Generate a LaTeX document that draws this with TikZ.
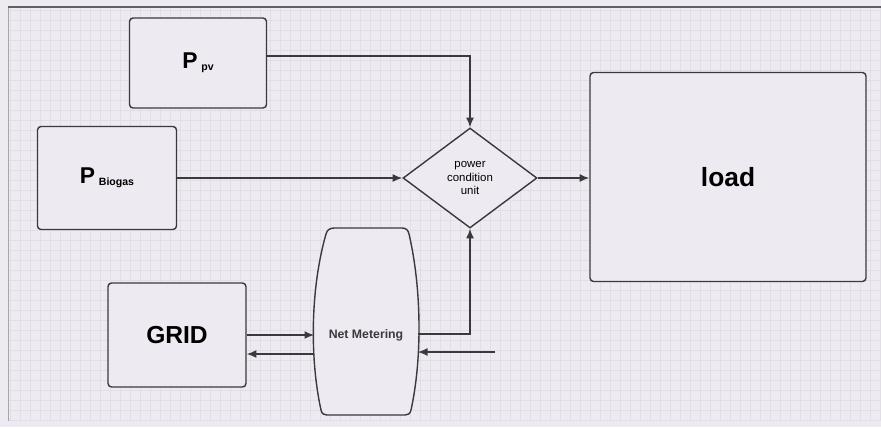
\documentclass[tikz,border=0pt]{standalone}
\usepackage{fontspec}
\setmainfont{Liberation Sans}
\usepackage{tikz}
\usetikzlibrary{arrows.meta, calc, shapes.geometric, positioning}
\definecolor{paper}{HTML}{EEEAF1}
\definecolor{gridline}{HTML}{E2DEE6}
\definecolor{ink}{HTML}{3A3A3E}

\begin{document}
\begin{tikzpicture}[x=0.02cm, y=-0.02cm,
  box/.style={draw=ink, line width=0.8pt, rounded corners=2pt, fill=paper, inner sep=0pt},
  link/.style={draw=ink, line width=0.8pt, -{Latex[length=5.5pt,width=4.5pt]}}]
% Background
\useasboundingbox (0,0) rectangle (881,427);
\fill[paper] (0,0) rectangle (881,427);
\draw[gridline, line width=0.3pt, step=0.2cm] (8,7) grid (881,421);
\draw[gray!70, line width=0.4pt] (8,421) -- (8,7);
\draw[ink!80, line width=0.9pt] (8,7) -- (881,7);

% Blocks
\node[box, minimum width=2.74cm, minimum height=1.8cm] (ppv) at (198,63)
  {\fontsize{13}{15}\selectfont\bfseries P\,\raisebox{-1pt}{\fontsize{6}{7}\selectfont pv}};
\node[box, minimum width=2.78cm, minimum height=2.06cm] (pbio) at (107,178)
  {\fontsize{13}{15}\selectfont\bfseries P\,\raisebox{-1pt}{\fontsize{6}{7}\selectfont Biogas}};
\node[box, shape=diamond, rounded corners=0pt, minimum width=2.68cm, minimum height=2cm,
  align=center, font=\fontsize{6.5}{7.5}\selectfont] (pcu) at (470,178)
  {power\\condition\\unit};
\node[box, minimum width=5.52cm, minimum height=4.18cm,
  font=\fontsize{15}{17}\selectfont\bfseries] (load) at (728,177) {load};
\node[box, minimum width=2.76cm, minimum height=2.08cm,
  font=\fontsize{14}{16}\selectfont\bfseries] (grid) at (177,335) {GRID};

% Net metering (barrel)
\node[minimum width=2.06cm, minimum height=3.74cm, inner sep=0pt] (netm) at (366,321) {};
\filldraw[ink, line width=0.8pt, fill=paper]
  (334,228) -- (402,228) .. controls (406,228) and (408,230) .. (409,234)
  .. controls (422,290) and (422,360) .. (411,410)
  .. controls (410,414) and (408,415) .. (405,415)
  -- (327,415) .. controls (324,415) and (322,414) .. (321,410)
  .. controls (310,360) and (310,290) .. (326,234)
  .. controls (327,230) and (330,228) .. cycle;
\node[font=\fontsize{7}{8}\selectfont\bfseries, text=ink] at (366,335) {Net Metering};

% Connections
\coordinate (ret) at (495,352);
\draw[link] ([yshift=0.14cm]ppv.east) -| (pcu.north);
\draw[link] (pbio.east) -- (pcu.west);
\draw[link] (pcu.east) -- (load.west |- pcu.east);
\draw[link] (grid.east) -- (netm.west |- grid.east);
\draw[link] (netm.west |- 0,354) -- (grid.east |- 0,354);
\draw[link] (netm.east |- 0,334) -| (pcu.south);
\draw[link] (ret) -- (netm.east |- ret);

\end{tikzpicture}
\end{document}
